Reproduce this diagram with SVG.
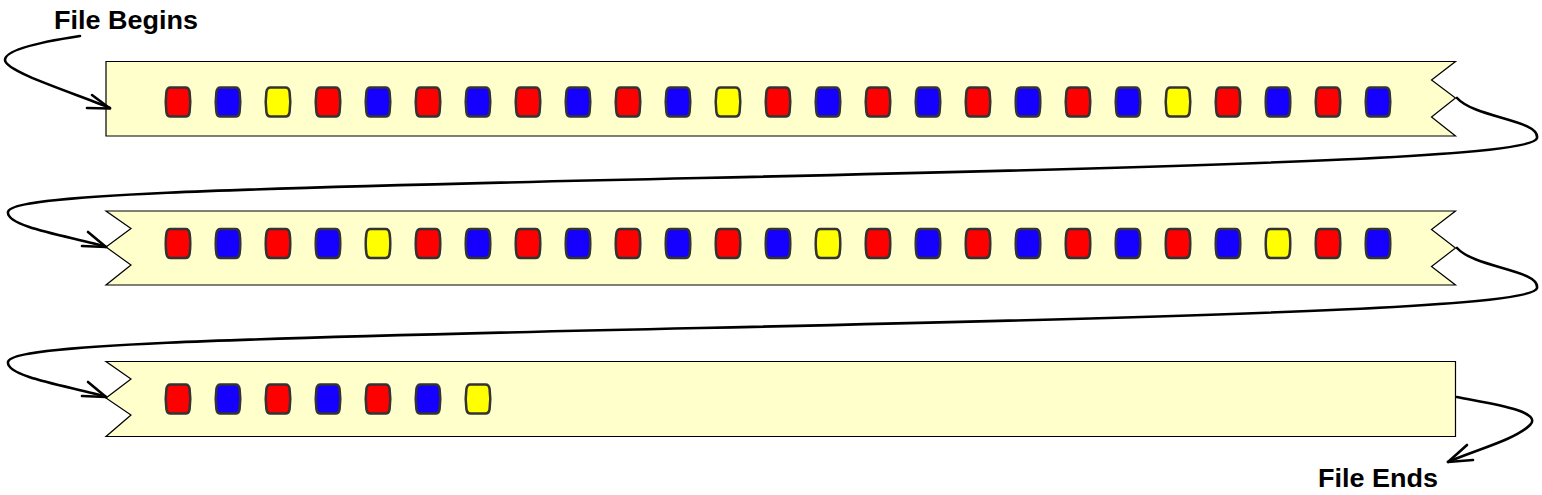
<svg xmlns="http://www.w3.org/2000/svg" xmlns:xlink="http://www.w3.org/1999/xlink" width="1542" height="495" viewBox="0 0 1542 495">
<style>
.strip{fill:#FFFFCC;stroke:#000;stroke-width:1.2;stroke-linejoin:miter}
.chip{stroke:#333;stroke-width:2.5}
.r{fill:#FF0000}.b{fill:#1500FF}.y{fill:#FFFF00}
.conn{fill:none;stroke:#000;stroke-width:2.6;stroke-linecap:round;stroke-linejoin:round}
.lbl{font-family:"Liberation Sans",Arial,sans-serif;font-weight:bold;font-size:26px;fill:#000}
</style>
<defs>
<path id="chip" class="chip" d="M-7.5,-14.5 H7.5 Q11,-14.5 11.6,-10 Q13,0 11.6,10 Q11,14.5 7.5,14.5 H-7.5 Q-11,14.5 -11.6,10 Q-13,0 -11.6,-10 Q-11,-14.5 -7.5,-14.5 Z"/>
</defs>
<rect width="1542" height="495" fill="#fff"/>
<g id="strip1">
<path class="strip" d="M106,61.5 H1455.5 L1431.5,80 L1455.5,98 L1431.5,117 L1455.5,136 H106 Z"/>
<g transform="translate(0,102)">
<use href="#chip" x="178" class="r"/><use href="#chip" x="228" class="b"/><use href="#chip" x="278" class="y"/><use href="#chip" x="328" class="r"/><use href="#chip" x="378" class="b"/><use href="#chip" x="428" class="r"/><use href="#chip" x="478" class="b"/><use href="#chip" x="528" class="r"/><use href="#chip" x="578" class="b"/><use href="#chip" x="628" class="r"/><use href="#chip" x="678" class="b"/><use href="#chip" x="728" class="y"/><use href="#chip" x="778" class="r"/><use href="#chip" x="828" class="b"/><use href="#chip" x="878" class="r"/><use href="#chip" x="928" class="b"/><use href="#chip" x="978" class="r"/><use href="#chip" x="1028" class="b"/><use href="#chip" x="1078" class="r"/><use href="#chip" x="1128" class="b"/><use href="#chip" x="1178" class="y"/><use href="#chip" x="1228" class="r"/><use href="#chip" x="1278" class="b"/><use href="#chip" x="1328" class="r"/><use href="#chip" x="1378" class="b"/>
</g>
</g>
<g id="strip2">
<path class="strip" d="M106,211 H1455.5 L1431.5,229.5 L1455.5,248 L1431.5,266.5 L1455.5,285 H106 L131,265 L106,247 L131,228.5 Z"/>
<g transform="translate(0,243.5)">
<use href="#chip" x="178" class="r"/><use href="#chip" x="228" class="b"/><use href="#chip" x="278" class="r"/><use href="#chip" x="328" class="b"/><use href="#chip" x="378" class="y"/><use href="#chip" x="428" class="r"/><use href="#chip" x="478" class="b"/><use href="#chip" x="528" class="r"/><use href="#chip" x="578" class="b"/><use href="#chip" x="628" class="r"/><use href="#chip" x="678" class="b"/><use href="#chip" x="728" class="r"/><use href="#chip" x="778" class="b"/><use href="#chip" x="828" class="y"/><use href="#chip" x="878" class="r"/><use href="#chip" x="928" class="b"/><use href="#chip" x="978" class="r"/><use href="#chip" x="1028" class="b"/><use href="#chip" x="1078" class="r"/><use href="#chip" x="1128" class="b"/><use href="#chip" x="1178" class="r"/><use href="#chip" x="1228" class="b"/><use href="#chip" x="1278" class="y"/><use href="#chip" x="1328" class="r"/><use href="#chip" x="1378" class="b"/>
</g>
</g>
<g id="strip3">
<path class="strip" d="M106,361.5 H1455.5 V436.5 H106 L131,415 L106,398 L131,379 Z"/>
<g transform="translate(0,399)">
<use href="#chip" x="178" class="r"/><use href="#chip" x="228" class="b"/><use href="#chip" x="278" class="r"/><use href="#chip" x="328" class="b"/><use href="#chip" x="378" class="r"/><use href="#chip" x="428" class="b"/><use href="#chip" x="478" class="y"/>
</g>
</g>
<g id="connectors">
<path class="conn" d="M80,36 C40,42 5,50 5,60 C5,72 80,95 110,108"/>
<path class="conn" d="M87,108 L110,108.5 L92,95"/>
<path class="conn" d="M1457,98 C1475,118 1540,120 1537,138 C1534,155 1300,165 700,178 C200,189 10,195 8,212 C6,228 80,238 106,247"/>
<path class="conn" d="M82,246 L106,247 L88,232"/>
<path class="conn" d="M1457,248 C1475,268 1540,270 1537,288 C1534,305 1300,315 700,328 C200,339 10,345 8,362 C6,378 80,388 106,397"/>
<path class="conn" d="M82,396 L106,397 L88,382"/>
<path class="conn" d="M1457,397 C1480,402 1545,410 1530,425 C1515,440 1475,450 1448,462"/>
<path class="conn" d="M1473,460 L1448,462 L1467,445"/>
</g>
<g id="labels">
<text class="lbl" x="54" y="29" textLength="144" lengthAdjust="spacingAndGlyphs">File Begins</text>
<text class="lbl" x="1318" y="487" textLength="120" lengthAdjust="spacingAndGlyphs">File Ends</text>
</g>
</svg>
